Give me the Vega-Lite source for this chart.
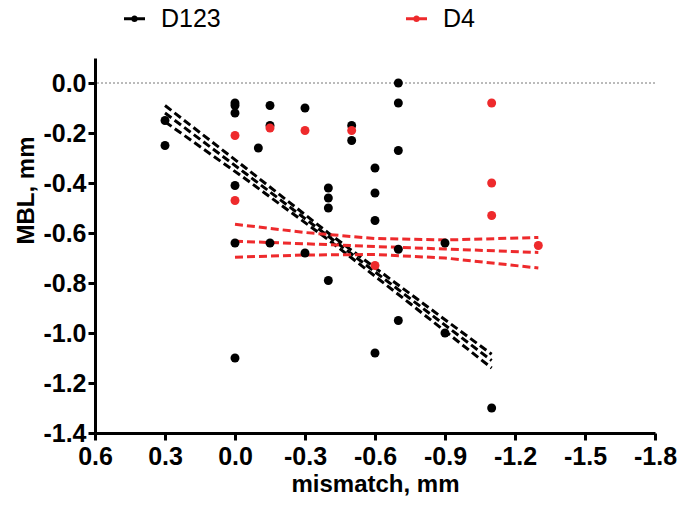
{
  "$schema": "https://vega.github.io/schema/vega-lite/v6.json",
  "width": 560,
  "height": 375,
  "autosize": "none",
  "padding": {"left": 95, "top": 58, "right": 25, "bottom": 78},
  "background": "white",
  "config": {
    "view": {"stroke": null},
    "font": "Liberation Sans",
    "axis": {
      "domainColor": "black",
      "domainWidth": 3,
      "tickColor": "black",
      "tickWidth": 3,
      "tickSize": 7,
      "grid": false,
      "labelFont": "Liberation Sans",
      "labelFontWeight": "bold",
      "labelFontSize": 25,
      "labelColor": "black",
      "labelFlush": false,
      "labelOverlap": false,
      "titleFont": "Liberation Sans",
      "titleFontWeight": "bold",
      "titleFontSize": 24,
      "titleColor": "black"
    }
  },
  "datasets": {
    "pts": [
      {"group": "D123", "x": 0.3, "y": -0.15},
      {"group": "D123", "x": 0.3, "y": -0.25},
      {"group": "D123", "x": 0.0, "y": -0.08},
      {"group": "D123", "x": 0.0, "y": -0.09},
      {"group": "D123", "x": 0.0, "y": -0.12},
      {"group": "D123", "x": 0.0, "y": -0.41},
      {"group": "D123", "x": 0.0, "y": -0.64},
      {"group": "D123", "x": 0.0, "y": -1.1},
      {"group": "D123", "x": -0.1, "y": -0.26},
      {"group": "D123", "x": -0.15, "y": -0.09},
      {"group": "D123", "x": -0.15, "y": -0.17},
      {"group": "D123", "x": -0.15, "y": -0.64},
      {"group": "D123", "x": -0.3, "y": -0.1},
      {"group": "D123", "x": -0.3, "y": -0.68},
      {"group": "D123", "x": -0.4, "y": -0.42},
      {"group": "D123", "x": -0.4, "y": -0.46},
      {"group": "D123", "x": -0.4, "y": -0.5},
      {"group": "D123", "x": -0.4, "y": -0.79},
      {"group": "D123", "x": -0.5, "y": -0.17},
      {"group": "D123", "x": -0.5, "y": -0.23},
      {"group": "D123", "x": -0.6, "y": -0.34},
      {"group": "D123", "x": -0.6, "y": -0.44},
      {"group": "D123", "x": -0.6, "y": -0.55},
      {"group": "D123", "x": -0.6, "y": -1.08},
      {"group": "D123", "x": -0.7, "y": 0.0},
      {"group": "D123", "x": -0.7, "y": -0.08},
      {"group": "D123", "x": -0.7, "y": -0.27},
      {"group": "D123", "x": -0.7, "y": -0.665},
      {"group": "D123", "x": -0.7, "y": -0.95},
      {"group": "D123", "x": -0.9, "y": -0.64},
      {"group": "D123", "x": -0.9, "y": -1.0},
      {"group": "D123", "x": -1.1, "y": -1.3},
      {"group": "D4", "x": 0.0, "y": -0.21},
      {"group": "D4", "x": 0.0, "y": -0.47},
      {"group": "D4", "x": -0.15, "y": -0.18},
      {"group": "D4", "x": -0.3, "y": -0.19},
      {"group": "D4", "x": -0.5, "y": -0.19},
      {"group": "D4", "x": -0.6, "y": -0.73},
      {"group": "D4", "x": -1.1, "y": -0.08},
      {"group": "D4", "x": -1.1, "y": -0.4},
      {"group": "D4", "x": -1.1, "y": -0.53},
      {"group": "D4", "x": -1.3, "y": -0.65}
    ],
    "fits": [
      {"group": "D123", "band": "center", "x": 0.3, "y": -0.12},
      {"group": "D123", "band": "center", "x": -0.05, "y": -0.365},
      {"group": "D123", "band": "center", "x": -0.4, "y": -0.613},
      {"group": "D123", "band": "center", "x": -0.75, "y": -0.862},
      {"group": "D123", "band": "center", "x": -1.1, "y": -1.11},
      {"group": "D123", "band": "upper", "x": 0.3, "y": -0.09},
      {"group": "D123", "band": "upper", "x": -0.05, "y": -0.343},
      {"group": "D123", "band": "upper", "x": -0.4, "y": -0.6},
      {"group": "D123", "band": "upper", "x": -0.75, "y": -0.843},
      {"group": "D123", "band": "upper", "x": -1.1, "y": -1.085},
      {"group": "D123", "band": "lower", "x": 0.3, "y": -0.155},
      {"group": "D123", "band": "lower", "x": -0.05, "y": -0.387},
      {"group": "D123", "band": "lower", "x": -0.4, "y": -0.627},
      {"group": "D123", "band": "lower", "x": -0.75, "y": -0.882},
      {"group": "D123", "band": "lower", "x": -1.1, "y": -1.14},
      {"group": "D4", "band": "center", "x": 0.0, "y": -0.633},
      {"group": "D4", "band": "center", "x": -0.3, "y": -0.643},
      {"group": "D4", "band": "center", "x": -0.6, "y": -0.654},
      {"group": "D4", "band": "center", "x": -0.9, "y": -0.664},
      {"group": "D4", "band": "center", "x": -1.3, "y": -0.678},
      {"group": "D4", "band": "upper", "x": 0.0, "y": -0.565},
      {"group": "D4", "band": "upper", "x": -0.3, "y": -0.598},
      {"group": "D4", "band": "upper", "x": -0.6, "y": -0.622},
      {"group": "D4", "band": "upper", "x": -0.9, "y": -0.628},
      {"group": "D4", "band": "upper", "x": -1.3, "y": -0.618},
      {"group": "D4", "band": "lower", "x": 0.0, "y": -0.697},
      {"group": "D4", "band": "lower", "x": -0.3, "y": -0.688},
      {"group": "D4", "band": "lower", "x": -0.6, "y": -0.686},
      {"group": "D4", "band": "lower", "x": -0.9, "y": -0.7},
      {"group": "D4", "band": "lower", "x": -1.3, "y": -0.74}
    ],
    "zero": [{"y": 0}]
  },
  "encoding": {
    "x": {
      "field": "x",
      "type": "quantitative",
      "scale": {"domain": [-1.8, 0.6], "reverse": true, "nice": false, "zero": false},
      "axis": {
        "title": "mismatch, mm",
        "values": [0.6, 0.3, 0, -0.3, -0.6, -0.9, -1.2, -1.5, -1.8],
        "labelExpr": "replace(format(datum.value, '.1f'), '\u2212', '-')",
        "labelPadding": 4,
        "titlePadding": 3
      }
    },
    "y": {
      "field": "y",
      "type": "quantitative",
      "scale": {"domain": [-1.4, 0.1], "nice": false, "zero": false},
      "axis": {
        "title": "MBL, mm",
        "values": [0, -0.2, -0.4, -0.6, -0.8, -1.0, -1.2, -1.4],
        "labelExpr": "replace(format(datum.value, '.1f'), '\u2212', '-')",
        "labelPadding": 2,
        "titleX": -62,
        "titleY": 132,
        "titleAngle": -90,
        "titleAlign": "center",
        "titleBaseline": "alphabetic"
      }
    }
  },
  "resolve": {"legend": {"color": "independent"}},
  "layer": [
    {
      "data": {"name": "zero"},
      "mark": {"type": "rule", "color": "#777777", "strokeWidth": 1, "strokeDash": [2, 2]},
      "encoding": {"x": null, "y": {"field": "y", "type": "quantitative"}}
    },
    {
      "data": {"name": "fits"},
      "mark": {"type": "line", "strokeWidth": 3, "strokeDash": [8, 4]},
      "encoding": {
        "detail": {"field": "band"},
        "color": {"field": "group", "type": "nominal", "scale": {"domain": ["D123", "D4"], "range": ["#000000", "#ee2a2c"]}, "legend": null}
      }
    },
    {
      "data": {"name": "pts"},
      "mark": {"type": "point", "filled": true, "size": 80, "opacity": 1},
      "encoding": {
        "color": {
          "field": "group",
          "type": "nominal",
          "scale": {"domain": ["D123", "D4"], "range": ["#000000", "#ee2a2c"]},
          "legend": {
            "title": null,
            "orient": "none",
            "direction": "horizontal",
            "legendX": 27,
            "legendY": -52,
            "symbolType": "M-1,-0.14H1V0.14H-1ZM0.32,0A0.32,0.32 0 1,1 -0.32,0A0.32,0.32 0 1,1 0.32,0Z",
            "symbolSize": 441,
            "labelFont": "Liberation Sans",
            "labelFontSize": 25,
            "labelColor": "black",
            "labelOffset": 14,
            "columnPadding": 183,
            "encode": {
              "symbols": {
                "update": {
                  "size": {"value": 441},
                  "fill": {"scale": "color", "field": "value"},
                  "opacity": {"value": 1},
                  "fillOpacity": {"value": 1}
                }
              }
            }
          }
        }
      }
    }
  ]
}
